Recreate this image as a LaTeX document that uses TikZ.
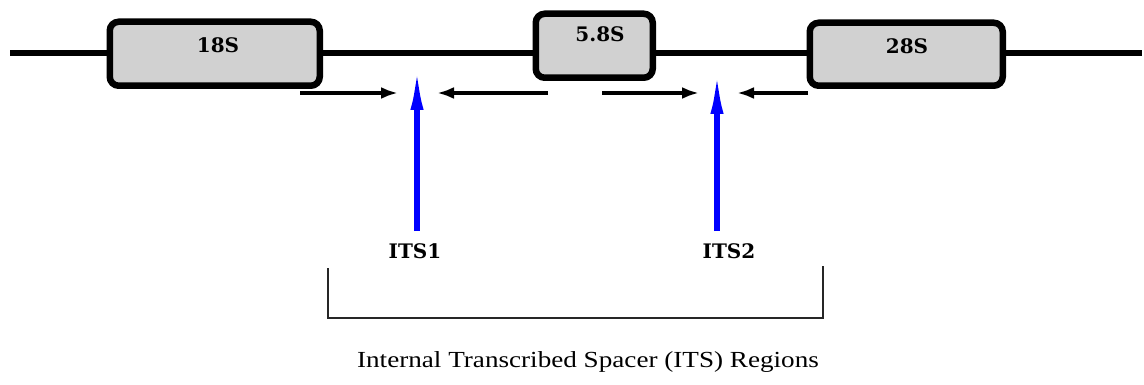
\documentclass[tikz,border=0pt]{standalone}
\usepackage{fontspec}
\setmainfont{DejaVu Serif}
\newfontfamily\capfont{Liberation Serif}
\usetikzlibrary{arrows.meta}
\begin{document}
\begin{tikzpicture}[x=1pt,y=-1pt,
  gene/.style={draw=black,line width=6.5pt,fill=black!18,rounded corners=9pt,anchor=north west,inner sep=0pt},
  lbl/.style={font=\bfseries\fontsize{20}{24}\selectfont},
  smallarr/.style={line width=4pt,-{Latex[length=17pt,width=12pt]}},
  bluearr/.style={draw=blue,line width=5.5pt,-{Latex[length=46pt,width=13pt]}},
  bracket/.style={line width=1.2pt,draw=black!85}]
\useasboundingbox (0,0) rectangle (1144,385);
% backbone
\coordinate (L) at (10,53);
\coordinate (R) at (1142,53);
\draw[line width=6pt] (L) -- (R);
% gene boxes
\node[gene,minimum width=210pt,minimum height=64pt] (b18) at (106.5,18.5) {};
\node[gene,minimum width=117pt,minimum height=64pt] (b58) at (532.5,10.5) {};
\node[gene,minimum width=193pt,minimum height=63pt] (b28) at (806.5,19.5) {};
\node[lbl] (t18) at (218,45) {18S};
\node[lbl] (t58) at (600,34) {5.8S};
\node[lbl] (t28) at (907,46) {28S};
% small primer arrows
\coordinate (a1s) at (300,93); \coordinate (a1e) at (398,93);
\coordinate (a2s) at (548,93); \coordinate (a2e) at (437,93);
\coordinate (a3s) at (602,93); \coordinate (a3e) at (699,93);
\coordinate (a4s) at (808,93); \coordinate (a4e) at (737,93);
\draw[smallarr] (a1s) -- (a1e);
\draw[smallarr] (a2s) -- (a2e);
\draw[smallarr] (a3s) -- (a3e);
\draw[smallarr] (a4s) -- (a4e);
% ITS labels and blue arrows
\node[lbl] (its1) at (415,251) {ITS1};
\node[lbl] (its2) at (729,251) {ITS2};
\coordinate (i1b) at (417,231); \coordinate (i1t) at (417,64);
\coordinate (i2b) at (717,231); \coordinate (i2t) at (717,68);
\draw[bluearr] (i1b) -- (i1t);
\draw[bluearr] (i2b) -- (i2t);
% bracket
\coordinate (bl) at (328,268); \coordinate (br) at (823,266);
\draw[bracket] (bl) -- (328,318) -- (823,318) -- (br);
\node[font=\capfont\fontsize{23}{26}\selectfont] (cap) at (588,362) {\scalebox{1.18}[1]{Internal Transcribed Spacer (ITS) Regions}};
\end{tikzpicture}
\end{document}
